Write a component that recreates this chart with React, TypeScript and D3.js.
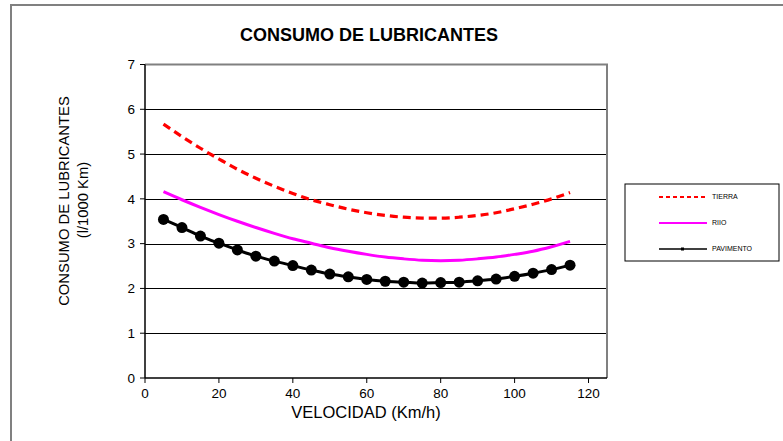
import * as d3 from 'd3';

const speeds = [5, 10, 15, 20, 25, 30, 35, 40, 45, 50, 55, 60, 65, 70, 75, 80, 85, 90, 95, 100, 105, 110, 115];
const tierra = [5.67, 5.39, 5.13, 4.89, 4.66, 4.46, 4.28, 4.12, 3.98, 3.87, 3.77, 3.69, 3.63, 3.59, 3.57, 3.57, 3.59, 3.63, 3.69, 3.78, 3.88, 4.0, 4.14];
const riio = [4.16, 3.98, 3.81, 3.65, 3.5, 3.36, 3.23, 3.11, 3.01, 2.91, 2.83, 2.76, 2.7, 2.66, 2.63, 2.62, 2.63, 2.66, 2.7, 2.76, 2.83, 2.93, 3.05];
const pavimento = [3.54, 3.36, 3.17, 3.01, 2.86, 2.72, 2.61, 2.51, 2.41, 2.32, 2.26, 2.2, 2.16, 2.14, 2.12, 2.13, 2.14, 2.17, 2.21, 2.27, 2.34, 2.42, 2.52];
const xTicks = [0, 20, 40, 60, 80, 100, 120];
const yTicks = [0, 1, 2, 3, 4, 5, 6, 7];

const series = [
  { name: 'TIERRA', values: tierra, color: '#ff0000', dash: '8,5', width: 3.2, dots: false },
  { name: 'RIIO', values: riio, color: '#ff00ff', dash: null, width: 3, dots: false },
  { name: 'PAVIMENTO', values: pavimento, color: '#000000', dash: null, width: 3, dots: true },
];

const font = 'Arial, "Liberation Sans", sans-serif';

export default function App() {
  const width = 783;
  const height = 441;
  const margin = { left: 145, right: 176, top: 64.5, bottom: 63 };

  const x = d3.scaleLinear().domain([0, 125]).range([margin.left, width - margin.right]);
  const y = d3.scaleLinear().domain([0, 7]).range([height - margin.bottom, margin.top]);

  const line = d3.line<number>()
    .x((_, i) => x(speeds[i]))
    .y(d => y(d))
    .curve(d3.curveMonotoneX);

  const legendX = 625;
  const legendY = 184;

  return (
    <svg width={width} height={height} style={{ position: 'absolute', left: 0, top: 0, fontFamily: font }}>
      <rect x={0} y={0} width={width} height={height} fill="#fff" />
      <rect x={11} y={5} width={width + 10} height={height + 10} fill="none" stroke="#808080" strokeWidth={2} />

      <text x={369} y={41} textAnchor="middle" fontSize={18} fontWeight="bold">CONSUMO DE LUBRICANTES</text>

      {/* gridlines */}
      {yTicks.filter(t => t > 0 && t < 7).map(t => (
        <line key={t} x1={x(0)} x2={x(125)} y1={Math.round(y(t)) + 0.5} y2={Math.round(y(t)) + 0.5} stroke="#000" strokeWidth={1} />
      ))}
      {/* plot frame top/right */}
      <path d={`M${x(0)},${y(7)}H${x(125)}V${y(0)}`} fill="none" stroke="#808080" strokeWidth={2} />

      {/* axes */}
      <line x1={x(0)} x2={x(0)} y1={y(7)} y2={y(0)} stroke="#000" strokeWidth={1.5} />
      <line x1={x(0)} x2={x(125)} y1={y(0)} y2={y(0)} stroke="#000" strokeWidth={1.5} />
      {yTicks.map(t => (
        <g key={t}>
          <line x1={x(0) - 5} x2={x(0)} y1={y(t)} y2={y(t)} stroke="#000" />
          <text x={x(0) - 10} y={y(t)} dy="0.35em" textAnchor="end" fontSize={13.5}>{t}</text>
        </g>
      ))}
      {xTicks.map(t => (
        <g key={t}>
          <line x1={x(t)} x2={x(t)} y1={y(0)} y2={y(0) + 5} stroke="#000" />
          <text x={x(t)} y={y(0) + 20} textAnchor="middle" fontSize={13.5}>{t}</text>
        </g>
      ))}

      <text x={366} y={418} textAnchor="middle" fontSize={16.5}>VELOCIDAD (Km/h)</text>
      <text transform="translate(69,201) rotate(-90)" textAnchor="middle" fontSize={14.8}>CONSUMO DE LUBRICANTES</text>
      <text transform="translate(88,200) rotate(-90)" textAnchor="middle" fontSize={14.8}>(l/1000 Km)</text>

      {/* series */}
      {series.map(s => (
        <g key={s.name}>
          <path d={line(s.values) || ''} fill="none" stroke={s.color} strokeWidth={s.width}
            strokeDasharray={s.dash || undefined} />
          {s.dots && s.values.map((v, i) => (
            <circle key={i} cx={x(speeds[i])} cy={y(v)} r={5.5} fill={s.color} />
          ))}
        </g>
      ))}

      {/* legend */}
      <rect x={legendX} y={legendY} width={154} height={77} fill="#fff" stroke="#000" strokeWidth={1} />
      {series.map((s, i) => {
        const ly = legendY + 13 + i * 26;
        return (
          <g key={s.name}>
            <line x1={659} x2={707} y1={ly} y2={ly} stroke={s.color} strokeWidth={s.dots ? 1.5 : 2}
              strokeDasharray={s.dash ? '4,3' : undefined} />
            {s.dots && <rect x={681} y={ly - 1.5} width={3} height={3} fill="#000" />}
            <text x={712} y={ly} dy="0.35em" fontSize={7}>{s.name}</text>
          </g>
        );
      })}
    </svg>
  );
}
